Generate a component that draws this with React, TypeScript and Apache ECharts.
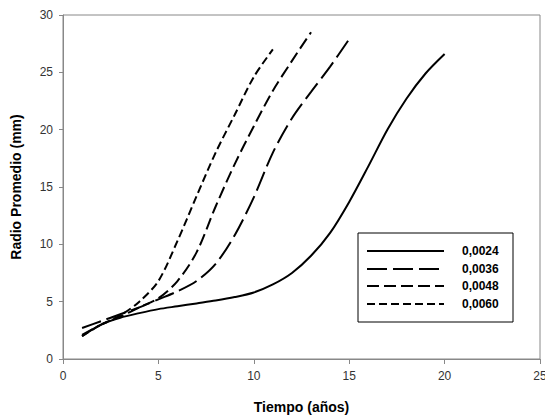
import React, { useEffect, useRef } from "react";
import * as echarts from "echarts";

const seriesNames = ["0,0024", "0,0036", "0,0048", "0,0060"];
const years0024 = [1, 2, 3, 4, 5, 6, 7, 8, 9, 10, 11, 12, 13, 14, 15, 16, 17, 18, 19, 20];
const radio0024 = [2.0, 3.0, 3.6, 4.0, 4.35, 4.6, 4.85, 5.1, 5.4, 5.8, 6.5, 7.5, 9.0, 11.0, 13.7, 16.8, 20.0, 22.7, 24.9, 26.6];
const years0036 = [1, 2, 3, 4, 5, 6, 7, 8, 9, 10, 11, 12, 13, 14, 15];
const radio0036 = [2.7, 3.3, 3.9, 4.5, 5.2, 5.9, 6.8, 8.3, 10.8, 14.1, 18.0, 21.0, 23.3, 25.5, 27.9];
const years0048 = [1, 2, 3, 4, 5, 6, 7, 8, 9, 10, 11, 12, 13];
const radio0048 = [2.1, 3.0, 3.7, 4.5, 5.3, 6.8, 9.3, 13.3, 17.0, 20.3, 23.4, 26.0, 28.5];
const years0060 = [1, 2, 3, 4, 5, 6, 7, 8, 9, 10, 11];
const radio0060 = [2.0, 3.0, 3.8, 5.0, 6.8, 10.3, 14.2, 18.0, 21.3, 24.6, 27.0];

const xTicks = [0, 5, 10, 15, 20, 25];
const yTicks = [0, 5, 10, 15, 20, 25, 30];

const dashes: (string | number[])[] = ["solid", [20, 6], [12, 5], [8, 4]];

export default function App() {
  const ref = useRef<HTMLDivElement>(null);
  useEffect(() => {
    if (!ref.current) return;
    const chart = echarts.init(ref.current, undefined, { renderer: "svg" });
    const xs = [years0024, years0036, years0048, years0060];
    const ys = [radio0024, radio0036, radio0048, radio0060];
    const series = seriesNames.map((name, i) => ({
      name,
      type: "line",
      data: xs[i].map((x, j) => [x, ys[i][j]]),
      showSymbol: false,
      symbol: "none",
      smooth: 0.3,
      lineStyle: { color: "#000", width: 2, type: dashes[i] as any },
    }));
    const legendLeft = 358;
    const legendTop = 233;
    const rowYs = [251, 269, 286, 304];
    const legendGraphics: any[] = [
      {
        type: "rect",
        shape: { x: legendLeft, y: legendTop, width: 155, height: 89 },
        style: { fill: "#fff", stroke: "#000", lineWidth: 1 },
        z: 10,
      },
    ];
    seriesNames.forEach((name, i) => {
      legendGraphics.push({
        type: "line",
        shape: { x1: 367, y1: rowYs[i], x2: 444, y2: rowYs[i] },
        style: {
          stroke: "#000",
          lineWidth: 2,
          lineDash: dashes[i] === "solid" ? null : (dashes[i] as number[]),
        },
        z: 11,
      });
      legendGraphics.push({
        type: "text",
        x: 462,
        y: rowYs[i],
        style: {
          text: name,
          fill: "#000",
          font: "bold 12px 'Liberation Sans', Arial, sans-serif",
          textVerticalAlign: "middle",
          verticalAlign: "middle",
        },
        z: 11,
      });
    });
    chart.setOption({
      animation: false,
      backgroundColor: "#fff",
      grid: {
        left: 63,
        right: 5,
        top: 15,
        bottom: 57,
        show: true,
        borderColor: "#888",
        borderWidth: 1,
        backgroundColor: "transparent",
        containLabel: false,
        outerBoundsMode: "none",
      },
      xAxis: {
        type: "value",
        min: xTicks[0],
        max: xTicks[xTicks.length - 1],
        interval: 5,
        name: "Tiempo (años)",
        nameLocation: "middle",
        nameGap: 41,
        nameTextStyle: {
          fontFamily: "'Liberation Sans', Arial, sans-serif",
          fontWeight: "bold",
          fontSize: 14,
          color: "#000",
        },
        axisLine: { show: true, lineStyle: { color: "#888", width: 1 } },
        axisTick: { show: true, inside: false, length: 5, lineStyle: { color: "#888" } },
        splitLine: { show: false },
        axisLabel: {
          margin: 11,
          fontFamily: "'Liberation Sans', Arial, sans-serif",
          fontSize: 12,
          color: "#333",
          showMaxLabel: true,
        },
      },
      yAxis: {
        type: "value",
        min: yTicks[0],
        max: yTicks[yTicks.length - 1],
        interval: 5,
        name: "Radio Promedio (mm)",
        nameLocation: "middle",
        nameGap: 40,
        nameTextStyle: {
          fontFamily: "'Liberation Sans', Arial, sans-serif",
          fontWeight: "bold",
          fontSize: 14,
          color: "#000",
        },
        axisLine: { show: true, lineStyle: { color: "#888", width: 1 } },
        axisTick: { show: true, inside: false, length: 4, lineStyle: { color: "#888" } },
        splitLine: { show: false },
        axisLabel: {
          margin: 10,
          fontFamily: "'Liberation Sans', Arial, sans-serif",
          fontSize: 12,
          color: "#333",
        },
      },
      series,
      graphic: legendGraphics,
    });
    return () => chart.dispose();
  }, []);
  return (
    <div
      ref={ref}
      style={{ position: "fixed", left: 0, top: 0, width: 545, height: 416 }}
    />
  );
}
